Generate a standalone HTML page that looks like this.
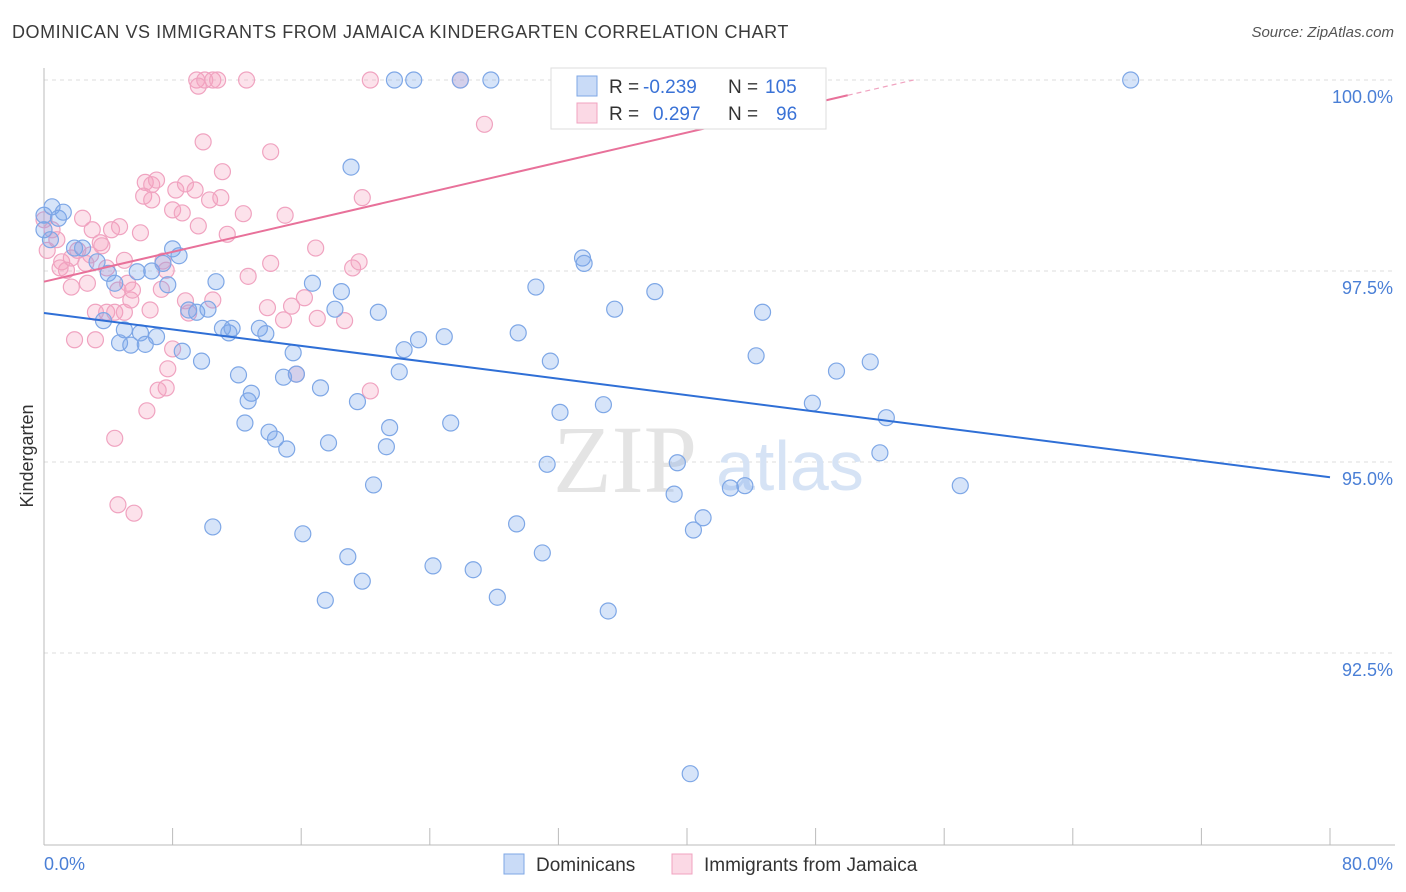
<!DOCTYPE html>
<html><head><meta charset="utf-8">
<style>
body{margin:0;background:#fff;font-family:"Liberation Sans",sans-serif;}
#wrap{position:relative;width:1406px;height:892px;overflow:hidden;}
.t{position:absolute;white-space:nowrap;}
</style></head>
<body>
<div id="wrap">
<div class="t" style="left:12px;top:22px;font-size:18px;color:#3a3a3a;letter-spacing:0.55px">DOMINICAN VS IMMIGRANTS FROM JAMAICA KINDERGARTEN CORRELATION CHART</div>
<div class="t" style="right:12px;top:24px;font-size:15px;color:#555;font-style:italic">Source: ZipAtlas.com</div>
<svg id="chart" width="1406" height="892" style="position:absolute;left:0;top:0"></svg>
</div>
<script>
const xTickLabels=["0.0%","80.0%"];
const yTicks=[100,97.5,95,92.5];
const yTickLabels=["100.0%","97.5%","95.0%","92.5%"];
const blueX=[0.5,0.9,1.2,1.9,2.4,3.3,4.0,4.4,3.7,5.0,4.7,5.4,6.0,6.3,7.0,5.8,6.7,7.7,7.4,8.0,8.4,9.0,9.5,10.2,10.7,11.1,11.5,11.7,9.8,8.6,12.1,12.9,12.7,12.5,14.0,14.4,15.1,13.4,13.8,15.5,14.9,15.7,16.7,17.2,18.1,18.5,19.1,19.5,17.7,20.5,20.8,21.5,21.3,22.1,22.4,23.3,24.9,25.3,10.5,16.1,17.5,18.9,19.8,24.2,26.7,28.2,29.4,31.0,31.3,32.1,31.5,29.5,30.6,33.5,33.6,34.8,35.5,38.0,39.4,39.2,40.4,41.0,42.7,43.6,44.3,44.7,47.8,49.3,51.4,52.4,52.0,57.0,35.1,40.2,21.8,23.0,25.9,27.8,32.7,67.6,43.3,0,0.4,0];
const blueY=[98.34,98.19,98.27,97.80,97.80,97.62,97.47,97.34,96.85,96.73,96.56,96.53,96.69,96.54,96.64,97.49,97.50,97.32,97.60,97.79,97.70,96.99,96.96,97.00,97.36,96.75,96.69,96.75,96.32,96.45,96.14,95.90,95.80,95.51,95.39,95.30,95.17,96.75,96.68,96.43,96.11,96.15,97.34,95.97,97.00,97.23,98.86,95.79,95.25,94.70,96.96,95.45,95.20,96.18,96.47,96.60,96.64,95.51,94.15,94.06,93.19,93.76,93.44,93.64,93.59,93.23,94.19,93.81,94.97,95.65,96.32,96.69,97.29,97.67,97.60,95.75,97.00,97.23,94.99,94.58,94.11,94.27,94.66,94.69,96.39,96.96,95.77,96.19,96.31,95.58,95.12,94.69,93.05,90.92,100,100,100,100,100,100,100,98.04,97.91,98.23];
const pinkX=[0,0.5,0.8,0.2,1.1,1.4,1.7,1.0,2.4,3.0,3.5,2.9,2.1,2.6,1.7,2.7,3.2,1.9,3.2,3.6,4.2,4.7,3.9,4.6,5.2,5.4,5.5,3.9,4.4,5.0,6.0,6.3,6.7,7.0,6.2,6.7,8.0,8.2,8.8,8.6,9.4,9.6,10.3,11.0,11.1,9.9,7.4,7.3,7.6,8.8,9.0,8.0,7.7,7.6,7.1,6.4,4.4,4.6,5.6,11.4,12.4,12.7,13.9,14.1,15.0,14.1,14.9,15.4,16.2,16.9,17.0,18.7,19.2,19.6,19.8,20.3,15.7,9.5,9.6,10.0,10.5,10.8,12.6,20.3,25.9,27.4,42.6,5.0,6.6,10.5];
const pinkY=[98.17,98.04,97.91,97.77,97.62,97.51,97.67,97.54,98.19,98.04,97.87,97.71,97.77,97.60,97.29,97.34,96.96,96.60,96.60,97.83,98.04,98.08,97.54,97.25,97.34,97.12,97.25,96.96,96.96,96.96,98.00,98.66,98.63,98.69,98.48,98.43,98.30,98.56,98.64,98.26,98.56,98.09,98.43,98.46,98.80,99.19,97.63,97.26,97.51,97.11,96.95,96.48,96.22,95.97,95.94,95.67,95.31,94.44,94.33,97.98,98.25,97.43,97.02,97.60,98.23,99.06,96.86,97.04,97.15,97.80,96.88,96.85,97.54,97.62,98.46,95.93,96.15,100,99.92,100,100,100,100,100,100,99.42,100,97.64,96.99,97.12];
const blueTrend=[96.95,94.80];
const pinkTrend=[97.36,99.80,50];
const legendR=["-0.239","0.297"];
const legendN=["105","96"];

const NS="http://www.w3.org/2000/svg";
const svg=document.getElementById('chart');
const X0=44,X1=1330;
function xs(v){return X0+(v/80)*(X1-X0);}
function ys(v){return 80+(100-v)*76.4;}
function mk(tag,attrs,parent){const e=document.createElementNS(NS,tag);for(const k in attrs)e.setAttribute(k,attrs[k]);(parent||svg).appendChild(e);return e;}

yTicks.forEach((t,i)=>{
 const g=mk('line',{x1:X0,x2:1395,y1:ys(t),y2:ys(t),stroke:'#dcdcdc','stroke-dasharray':'4,4','stroke-width':1});
 
 
 const tx=mk('text',{x:1393,y:ys(t)+23,'text-anchor':'end','font-size':18,fill:'#4a7fd6','font-family':'Liberation Sans, sans-serif'});
 tx.textContent=yTickLabels[i];
 
 
});
const ax=mk('line',{x1:X0,x2:1395,y1:845,y2:845,stroke:'#bbb'});


const ay=mk('line',{x1:X0,x2:X0,y1:68,y2:845,stroke:'#bbb'});


for(let i=0;i<=10;i++){
 const tk=mk('line',{x1:xs(i*8),x2:xs(i*8),y1:828,y2:845,stroke:'#bbb'});
 
 
}
[[0,'start',44],[1,'end',1393]].forEach(([i,a,x])=>{
 const tx=mk('text',{x:x,y:870,'text-anchor':a,'font-size':18,fill:'#4a7fd6','font-family':'Liberation Sans, sans-serif'});
 tx.textContent=xTickLabels[i];
 
 
});
const yt=mk('text',{x:33,y:456,'text-anchor':'middle','font-size':18,fill:'#333',transform:'rotate(-90 33 456)','font-family':'Liberation Sans, sans-serif'});
yt.textContent='Kindergarten';


const wm=mk('text',{x:553,y:492,'font-size':96,fill:'#e4e4e4','font-family':'Liberation Serif, serif'});
wm.textContent='ZIP';


const wm2=mk('text',{x:716,y:490,'font-size':70,fill:'#d6e3f5','font-family':'Liberation Sans, sans-serif'});
wm2.textContent='atlas';



pinkX.forEach((v,i)=>{
 const c=mk('circle',{cx:xs(v),cy:ys(pinkY[i]),r:8,fill:'rgba(244,160,190,0.3)',stroke:'#f0a3c0','stroke-width':1.2});
 
 
});
blueX.forEach((v,i)=>{
 const c=mk('circle',{cx:xs(v),cy:ys(blueY[i]),r:8,fill:'rgba(120,165,235,0.3)',stroke:'#7ea7e6','stroke-width':1.2});
 
 
});
const bl=mk('line',{x1:xs(0),y1:ys(blueTrend[0]),x2:xs(80),y2:ys(blueTrend[1]),stroke:'#2f6fd6','stroke-width':2});


const slope=(pinkTrend[1]-pinkTrend[0])/pinkTrend[2];
const pl=mk('line',{x1:xs(0),y1:ys(pinkTrend[0]),x2:xs(pinkTrend[2]),y2:ys(pinkTrend[1]),stroke:'#e8719a','stroke-width':2});


const xEnd=(100-pinkTrend[0])/slope;
const pd=mk('line',{x1:xs(pinkTrend[2]),y1:ys(pinkTrend[1]),x2:xs(xEnd),y2:ys(100),stroke:'#f0a3c0','stroke-width':1.2,'stroke-dasharray':'5,4'});



const lg=mk('g',{});


mk('rect',{x:551,y:68,width:275,height:61,fill:'#fff',stroke:'#ddd'},lg);
const cols=[['rgba(120,165,235,0.4)','#7ea7e6'],['rgba(244,160,190,0.4)','#f0a3c0']];
[0,1].forEach(i=>{
 const yy=86+i*27;
 const sw=mk('rect',{x:577,y:yy-10,width:20,height:20,fill:cols[i][0],stroke:cols[i][1]},lg);
 
 
 const t=mk('text',{x:609,y:yy+7,'font-size':19,fill:'#333','font-family':'Liberation Sans, sans-serif'},lg);
 t.innerHTML='R = <tspan fill="#3a72d6" x="'+(i?653:643)+'">'+legendR[i]+'</tspan><tspan fill="#333" x="728">N =</tspan><tspan fill="#3a72d6" x="'+(i?776:765)+'">'+legendN[i]+'</tspan>';
 
 
});
[[504,'Dominicans',0],[672,'Immigrants from Jamaica',1]].forEach(([x,l,i])=>{
 const r=mk('rect',{x:x,y:854,width:20,height:20,fill:cols[i][0],stroke:cols[i][1]});
 
 
 const t=mk('text',{x:x+32,y:871,'font-size':19,fill:'#333','font-family':'Liberation Sans, sans-serif'});
 t.textContent=l;
 
 
});
</script>
</body></html>
